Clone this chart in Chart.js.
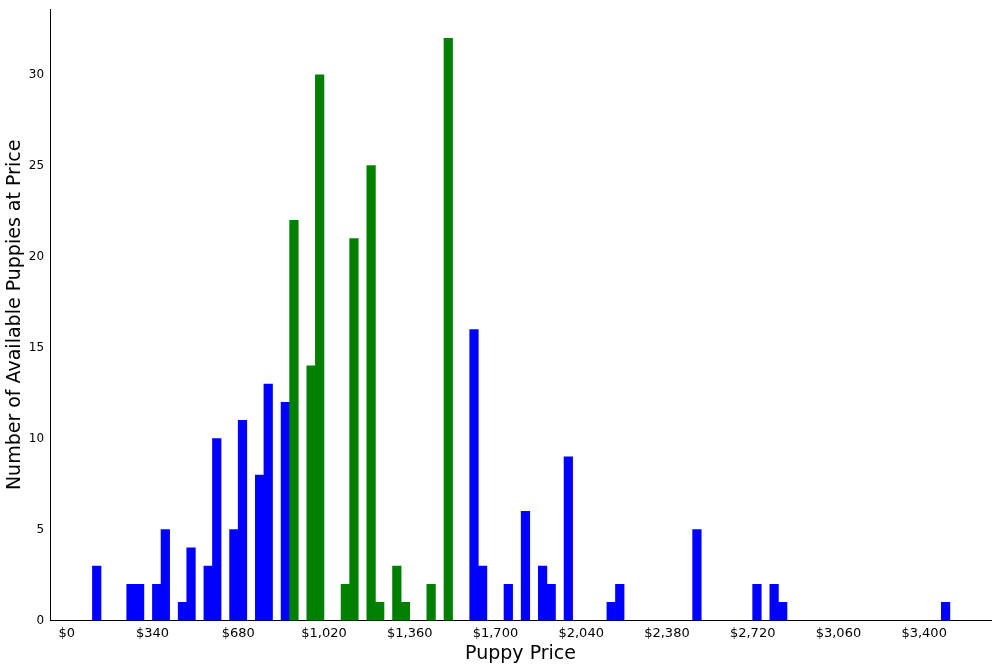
<!DOCTYPE html>
<html><head><meta charset="utf-8">
<script src="https://cdn.jsdelivr.net/npm/chart.js@4"></script>
<style>html,body{margin:0;background:#fff}#w{width:1000px;height:666px}</style>
</head><body><div id="w"><canvas id="c"></canvas></div>
<script>
const binWidth = 34;
const binIndex = [3,7,8,10,11,13,14,16,17,19,20,22,23,25,26,28,29,32,33,35,36,38,39,42,44,47,48,51,53,55,56,58,63,64,73,80,82,83,102];
const counts   = [3,2,2,2,5,1,4,3,10,5,11,8,13,12,22,14,30,2,21,25,1,3,1,2,32,16,3,2,6,3,2,9,1,2,5,2,2,1,1];
const greenFrom = 26, greenTo = 44;
const tickValues = [0,340,680,1020,1360,1700,2040,2380,2720,3060,3400];
const yTicks = [0,5,10,15,20,25,30];

const data = [], colors = [];
for (let i = 0; i <= 103; i++) {
  const k = binIndex.indexOf(i);
  data.push({x: i*binWidth + binWidth/2, y: k >= 0 ? counts[k] : null});
  colors.push(i >= greenFrom && i <= greenTo ? '#008000' : '#0000ff');
}
new Chart(document.getElementById('c'), {
  type: 'bar',
  data: {datasets: [{data, backgroundColor: colors, barPercentage: 1, categoryPercentage: 1, borderWidth: 0}]},
  options: {
    responsive: true, maintainAspectRatio: false, animation: false,
    layout: {padding: {left: 4, right: 9, top: 8, bottom: 1}},
    plugins: {legend: {display: false}, tooltip: {enabled: false}},
    scales: {
      x: {type: 'linear', min: -66, max: 3665, offset: false,
        grid: {display: false, drawTicks: true, tickLength: 4}, border: {color: '#000', width: 1},
        afterBuildTicks: s => { s.ticks = tickValues.map(v => ({value: v})); },
        ticks: {color: '#000', font: {size: 13, family: 'DejaVu Sans'}, maxRotation: 0, autoSkip: false, padding: 1,
          callback: v => '$' + v.toLocaleString('en-US')},
        title: {display: true, text: 'Puppy Price', color: '#000', font: {size: 19, family: 'DejaVu Sans'}, padding: {top: 0, bottom: 0}}},
      y: {min: 0, max: 33.6,
        grid: {display: false, tickLength: 4}, border: {color: '#000', width: 1},
        afterBuildTicks: s => { s.ticks = yTicks.map(v => ({value: v})); },
        ticks: {color: '#000', font: {size: 12, family: 'DejaVu Sans'}, padding: 2},
        title: {display: true, text: 'Number of Available Puppies at Price', color: '#000', font: {size: 19, family: 'DejaVu Sans'}, padding: {top: 0, bottom: 0}}}
    }
  }
});
</script></body></html>
